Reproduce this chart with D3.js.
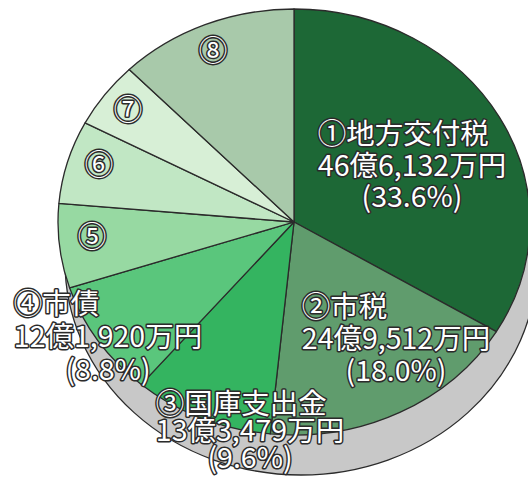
<!DOCTYPE html>
<html>
<head>
<meta charset="utf-8">
<script src="https://cdn.jsdelivr.net/npm/d3@7"></script>
<style>
  html, body { margin: 0; padding: 0; background: #fff; }
  svg { display: block; }
  .lbl {
    font-family: "Noto Sans CJK JP", "Noto Sans", sans-serif;
    fill: #fff;
    stroke: #2b2b2b;
    stroke-width: 3px;
    stroke-linejoin: round;
    paint-order: stroke;
  }
</style>
</head>
<body>
<script>
const w = 528;
const h = 477;

// revenue items, amounts in 万円, share in %
const marks = ['①', '②', '③', '④', '⑤', '⑥', '⑦', '⑧'];
const names = ['地方交付税', '市税', '国庫支出金', '市債', '', '', '', ''];
const amounts = [466132, 249512, 133479, 121920, null, null, null, null];
const shares = [33.6, 18.0, 9.6, 8.8, 6.4, 6.3, 5.0, 12.3];
const colors = ['#1d6836', '#609c6d', '#34b460', '#5ac67c', '#97d9a2', '#c1e7c4', '#d7efd6', '#a8c9aa'];

// label placement: [centre x, first baseline, line gap]
const labelPos = [
  [412, 144, 31.5],
  [396, 317, 32],
  [250, 414, 27],
  [108, 314, 33]
];
// circled-number only labels (⑤..⑧)
const markPos = [null, null, null, null, [92, 237], [99, 165], [128, 110], [213, 51]];

const cx = 294, cy = 222, rx = 236, ry = 213;
const shadow = {dx: 7, dy: 40};

const fmtOku = v => {
  const oku = Math.floor(v / 10000);
  const man = v % 10000;
  return `${oku}億${d3.format(',')(man)}万円`;
};

const svg = d3.select('body').append('svg')
  .attr('width', w)
  .attr('height', h)
  .attr('viewBox', [0, 0, w, h]);

// grey shadow under the pie
svg.append('ellipse')
  .attr('cx', cx + shadow.dx)
  .attr('cy', cy + shadow.dy)
  .attr('rx', rx)
  .attr('ry', ry)
  .style('fill', '#c8c8c8')
  .style('stroke', '#2b2b2b')
  .style('stroke-width', 1.3);

const pie = d3.pie().sort(null).value(d => d.share);
const data = shares.map((s, i) => ({i, share: s}));
const arcs = pie(data);

const arc = d3.arc().innerRadius(0).outerRadius(ry);

const g = svg.append('g')
  .attr('transform', `translate(${cx},${cy}) scale(${rx / ry},1)`);

g.selectAll('path.slice')
  .data(arcs)
  .enter().append('path')
    .attr('class', 'slice')
    .attr('d', arc)
    .attr('vector-effect', 'non-scaling-stroke')
    .style('fill', d => colors[d.data.i])
    .style('stroke', '#2b2b2b')
    .style('stroke-width', 1.3)
    .style('stroke-linejoin', 'round');

// big labels for ①..④
const fs = 28.5;
labelPos.forEach((p, i) => {
  const [x, y0, gap] = p;
  const lg = svg.append('g').attr('class', 'lbl').style('font-size', fs + 'px');
  const mid = lg.append('text')
    .attr('x', x)
    .attr('y', y0 + gap)
    .attr('text-anchor', 'middle')
    .text(fmtOku(amounts[i]));
  const len = mid.node().getComputedTextLength();
  lg.append('text')
    .attr('x', x - len / 2)
    .attr('y', y0)
    .attr('text-anchor', 'start')
    .text(marks[i] + names[i]);
  lg.append('text')
    .attr('x', x)
    .attr('y', y0 + gap * 2)
    .attr('text-anchor', 'middle')
    .text(`(${shares[i].toFixed(1)}%)`);
});

// circled numbers for the small slices
svg.selectAll('text.mark')
  .data(markPos.map((p, i) => ({p, i})).filter(d => d.p))
  .enter().append('text')
    .attr('class', 'lbl mark')
    .attr('x', d => d.p[0])
    .attr('y', d => d.p[1])
    .attr('dy', '0.36em')
    .attr('text-anchor', 'middle')
    .style('font-size', fs + 'px')
    .text(d => marks[d.i]);
</script>
</body>
</html>
